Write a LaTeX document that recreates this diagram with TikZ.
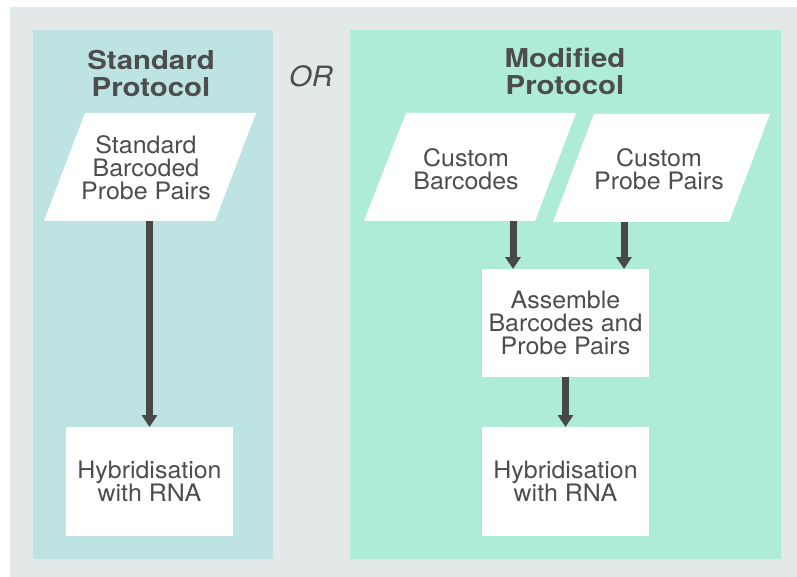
\documentclass[tikz,border=0pt]{standalone}
\usepackage{fontspec}
\setmainfont{TeX Gyre Heros}[FakeStretch=1.04]
\newfontfamily\titlefont{TeX Gyre Heros}[FakeStretch=1.13]
\usetikzlibrary{arrows.meta}

\definecolor{framegrey}{HTML}{E3E9E9}
\definecolor{stdpanel}{HTML}{BDE3E3}
\definecolor{modpanel}{HTML}{AEECD8}
\definecolor{inktext}{HTML}{4D4D4D}
\definecolor{inkarrow}{HTML}{484848}

\tikzset{
  x=1pt, y=-1pt,
  bodytext/.style={text=inktext, align=center, inner sep=0pt, outer sep=0pt,
    font=\fontsize{24}{23}\selectfont},
  titletext/.style={text=inktext, align=center, inner sep=0pt,
    font=\titlefont\bfseries\fontsize{26}{27}\selectfont},
  whitebox/.style={bodytext, fill=white, minimum width=167pt, minimum height=109pt},
  dataslab/.style={fill=white},
  flowarrow/.style={draw=inkarrow, line width=7pt, -{Triangle[length=12pt,width=15pt]}}
}

\begin{document}
\begin{tikzpicture}
  \useasboundingbox (0,0) rectangle (797,577);
  % backgrounds
  \fill[framegrey] (10,7) rectangle (797,577);
  \fill[stdpanel] (33,30) rectangle (273,559);
  \fill[modpanel] (350,30) rectangle (781,559);

  % headings
  \node[titletext] (stdtitle) at (151,73) {Standard\\Protocol};
  \node[titletext] (modtitle) at (565,71) {Modified\\Protocol};
  \node[text=inktext, inner sep=0pt, font=\itshape\fontsize{28}{30}\selectfont] (ortext) at (311,76) {OR};

  % standard protocol
  \fill[dataslab] (44,221) -- (215,221) -- (256,113) -- (85,113) -- cycle;
  \node[bodytext] (stdprobes) at (146,168) {Standard\\Barcoded\\Probe Pairs};
  \coordinate (stdprobesB) at (149.5,221);
  \node[whitebox] (hybL) at (149.5,481.5) {Hybridisation\\with RNA};
  \draw[flowarrow] (stdprobesB) -- (hybL.north);

  % modified protocol
  \fill[dataslab] (364,221) -- (535,221) -- (576,113) -- (406,113) -- cycle;
  \node[bodytext] (custbar) at (466,169) {Custom\\Barcodes};
  \coordinate (custbarB) at (513,221);
  \fill[dataslab] (553,222) -- (729,222) -- (770,114) -- (594,114) -- cycle;
  \node[bodytext] (custprobe) at (659,169) {Custom\\Probe Pairs};
  \coordinate (custprobeB) at (624,222);

  \node[whitebox, minimum height=108pt] (assemble) at (565.5,323) {Assemble\\Barcodes and\\Probe Pairs};
  \node[whitebox] (hybR) at (565.5,481.5) {Hybridisation\\with RNA};

  \draw[flowarrow] (custbarB) -- (custbarB |- assemble.north);
  \draw[flowarrow] (custprobeB) -- (custprobeB |- assemble.north);
  \draw[flowarrow] (assemble.south) -- (hybR.north);
\end{tikzpicture}
\end{document}
